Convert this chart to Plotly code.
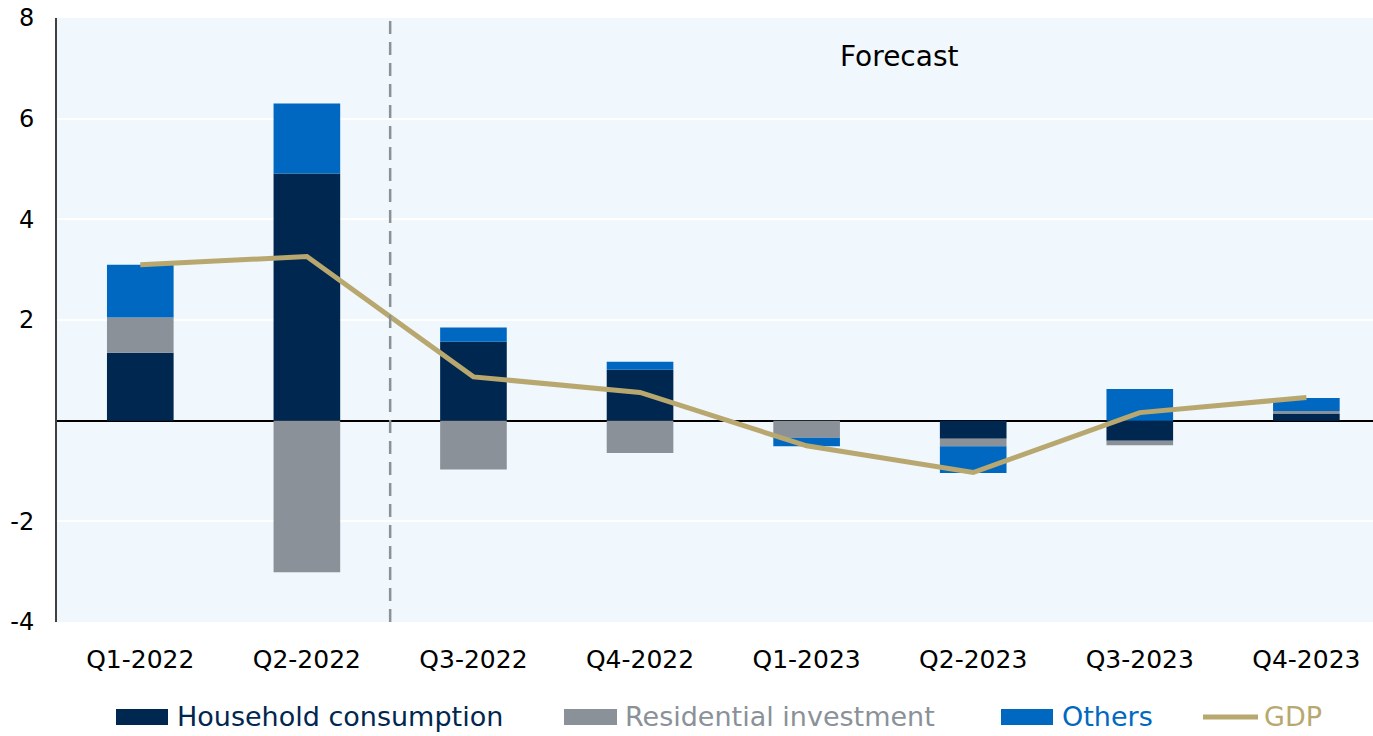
import plotly.graph_objects as go

quarters = ["Q1-2022", "Q2-2022", "Q3-2022", "Q4-2022",
            "Q1-2023", "Q2-2023", "Q3-2023", "Q4-2023"]
household = [1.35, 4.91, 1.57, 1.01, 0.0, -0.36, -0.40, 0.14]
residential = [0.70, -3.01, -0.97, -0.64, -0.34, -0.15, -0.09, 0.05]
others = [1.05, 1.39, 0.28, 0.16, -0.17, -0.53, 0.63, 0.26]
gdp = [3.10, 3.26, 0.87, 0.56, -0.50, -1.03, 0.16, 0.46]
y_ticks = [-4, -2, 2, 4, 6, 8]
y_tick_labels = ["-4", "-2", "2", "4", "6", "8"]

NAVY = "#00274F"
GREY = "#8A9199"
BLUE = "#0068C1"
GOLD = "#B8A86F"
FONT = "DejaVu Sans"

W, H = 1373, 736
L, R, T, B = 57, 0, 18, 114

fig = go.Figure()
series = [("Household consumption", household, NAVY),
          ("Residential investment", residential, GREY),
          ("Others", others, BLUE)]
for name, vals, col in series:
    fig.add_trace(go.Bar(x=quarters, y=vals, width=0.4, name=name,
                         marker_color=col, marker_line_width=0, showlegend=False))

fig.add_trace(go.Scatter(x=quarters, y=gdp, mode="lines", name="GDP",
                         line=dict(color=GOLD, width=5), showlegend=False))

# forecast divider between Q2-2022 and Q3-2022
fig.add_shape(type="line", xref="x", yref="paper", x0=1.5, x1=1.5, y0=0, y1=1,
              line=dict(color=GREY, width=2.5, dash="13px,8px"))
fig.add_annotation(x=4.555, y=7.23, xref="x", yref="y", text="Forecast",
                   showarrow=False, font=dict(family=FONT, size=28, color="#000000"))


# legend drawn below the plot, positioned in pixels
def px_x(px):
    return (px - L) / (W - L - R)


def px_y(py):
    return (H - B - py) / (H - T - B)


legend_items = [
    ("Household consumption", NAVY, "box", 116, 168, 175),
    ("Residential investment", GREY, "box", 564, 617, 623),
    ("Others", BLUE, "box", 1001, 1053, 1060),
    ("GDP", GOLD, "line", 1203, 1258, 1262),
]
for label, col, kind, x0, x1, tx in legend_items:
    if kind == "box":
        fig.add_shape(type="rect", xref="paper", yref="paper",
                      x0=px_x(x0), x1=px_x(x1), y0=px_y(725), y1=px_y(709),
                      fillcolor=col, line_width=0)
    else:
        fig.add_shape(type="line", xref="paper", yref="paper",
                      x0=px_x(x0), x1=px_x(x1), y0=px_y(717), y1=px_y(717),
                      line=dict(color=col, width=5))
    fig.add_annotation(x=px_x(tx), y=px_y(716), xref="paper", yref="paper",
                       xanchor="left", yanchor="middle", text=label, showarrow=False,
                       font=dict(family=FONT, size=27, color=col))

fig.update_layout(
    barmode="relative",
    width=W, height=H,
    margin=dict(l=L, r=R, t=T, b=B, autoexpand=False),
    paper_bgcolor="white",
    plot_bgcolor="#F0F7FD",
    font=dict(family=FONT, size=20, color="#000000"),
    showlegend=False,
)
fig.update_xaxes(range=[-0.5, 7.4], showgrid=False, ticks="", showline=False,
                 tickfont=dict(size=25), ticklabelstandoff=20, automargin=False)
fig.update_yaxes(range=[-4, 8], tickvals=y_ticks, ticktext=y_tick_labels,
                 showgrid=True, gridcolor="white", gridwidth=2,
                 zeroline=True, zerolinecolor="#000000", zerolinewidth=2,
                 showline=True, linecolor="#404040", linewidth=2, ticks="",
                 tickfont=dict(size=24), ticklabelstandoff=16, automargin=False)

fig.write_html("out.html")
